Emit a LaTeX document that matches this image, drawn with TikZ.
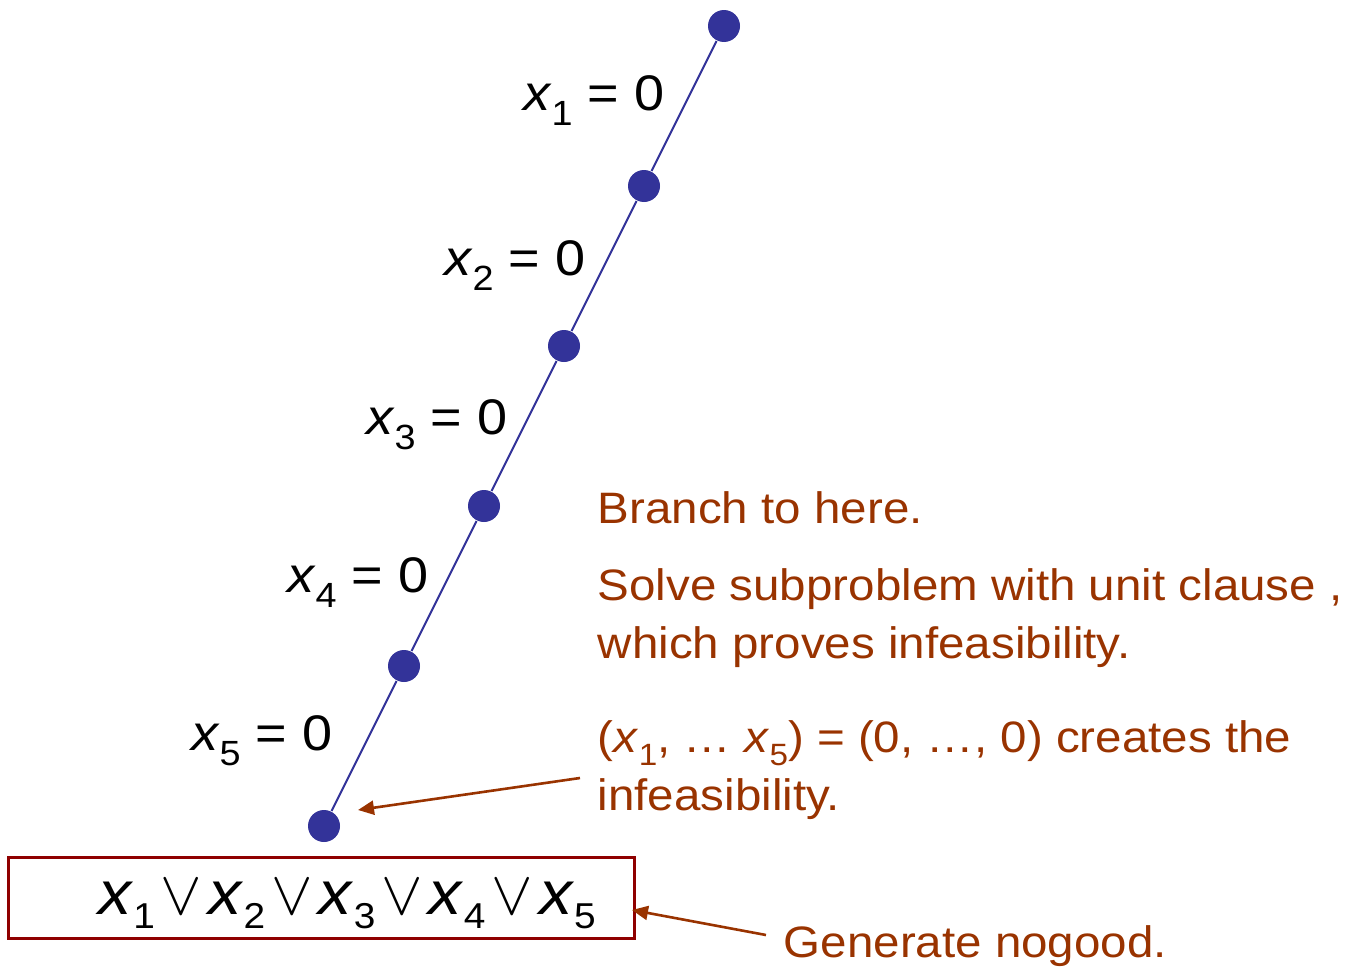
\documentclass[tikz,border=0pt]{standalone}
\usepackage{fontspec}
\setmainfont[FakeStretch=1.08]{Liberation Sans}
\usetikzlibrary{arrows.meta}
\definecolor{dotblue}{HTML}{333399}
\definecolor{notered}{HTML}{993300}
\definecolor{boxred}{HTML}{8F0000}
\newcommand{\xs}[1]{\textit{x}\raisebox{-0.3em}{\scalebox{0.7}{#1}}}
\newcommand{\xb}[1]{\scalebox{1.06}{\textit{x}}\raisebox{-0.24em}{\scalebox{0.62}{#1}}}
\newcommand{\orsym}{\hspace{3pt}\scalebox{1.25}{$\vee$}\hspace{3pt}}

\begin{document}
\begin{tikzpicture}[x=0.5pt, y=-0.5pt, thick,
    main/.style = {circle, fill=dotblue, minimum size=16pt, inner sep=0pt},
    lab/.style = {anchor=base east, inner sep=0pt, font=\fontsize{25}{30}\selectfont},
    note/.style = {anchor=base west, inner sep=0pt, text=notered, align=left, font=\fontsize{22}{29}\selectfont},
    pointer/.style = {notered, line width=1.3pt, -{Triangle[length=8pt,width=7pt]}}]
\useasboundingbox (0,0) rectangle (1349,969);
% search path
\node[main] (v0) at (724,26) {};
\node[main] (v1) at (644,186) {};
\node[main] (v2) at (564,346) {};
\node[main] (v3) at (484,506) {};
\node[main] (v4) at (404,666) {};
\node[main] (v5) at (324,826) {};
\draw[dotblue, line width=1pt] (v0) -- (v1) -- (v2) -- (v3) -- (v4) -- (v5);
\node[lab] (l1) at (665,110) {\xs{1} = 0};
\node[lab] (l2) at (586,275) {\xs{2} = 0};
\node[lab] (l3) at (508,434) {\xs{3} = 0};
\node[lab] (l4) at (429,592) {\xs{4} = 0};
\node[lab] (l5) at (333,750) {\xs{5} = 0};
% nogood
\node[draw=boxred, line width=1.5pt, minimum width=313pt, minimum height=40.5pt,
      text height=22pt, text depth=5pt, font=\fontsize{29}{34}\selectfont] (clause) at (321,897.5)
      {\hspace*{26pt}\xb{1}\orsym\xb{2}\orsym\xb{3}\orsym\xb{4}\orsym\xb{5}};
% notes
\node[note] (t1) at (597,523) {Branch to here.};
\node[note] (t2) at (597,658) {Solve subproblem with unit clause ,\\which proves infeasibility.};
\node[note] (t3) at (597,810) {(\xs{1}, … \xs{5}) = (0, …, 0) creates the\\infeasibility.};
\node[note] (t4) at (783,957) {Generate nogood.};
\coordinate (a1) at (580,778);
\coordinate (b1) at (358,810);
\coordinate (a2) at (766,935);
\coordinate (b2) at (632,910);
\draw[pointer] (a1) -- (b1);
\draw[pointer] (a2) -- (b2);
\end{tikzpicture}
\end{document}
